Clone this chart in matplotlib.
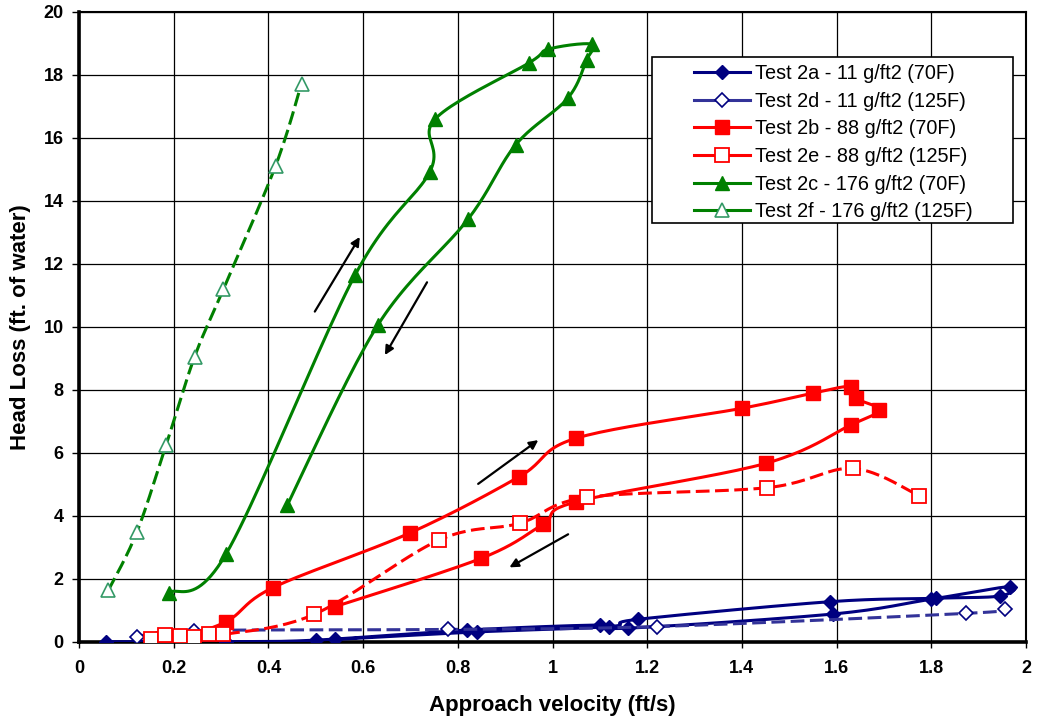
import numpy as np
import matplotlib
matplotlib.use("Agg")
import matplotlib.pyplot as plt
from matplotlib.lines import Line2D
from matplotlib.patches import Rectangle

plt.rcParams['font.family'] = ['Liberation Sans', 'DejaVu Sans']

# ---------------- data ----------------
t2a_x = [0.058, 0.31, 0.50, 0.82, 1.10, 1.16, 1.593, 1.80, 1.966, 1.945, 1.81, 1.586, 1.18, 1.12, 0.84, 0.54]
t2a_y = [0.00, 0.00, 0.05, 0.37, 0.53, 0.43, 0.88, 1.35, 1.75, 1.45, 1.38, 1.27, 0.71, 0.48, 0.31, 0.07]

t2d_x = [0.122, 0.243, 0.78, 1.22, 1.874, 1.956]
t2d_y = [0.16, 0.35, 0.39, 0.48, 0.90, 1.03]

t2b_x = [0.185, 0.31, 0.41, 0.70, 0.93, 1.05, 1.40, 1.55, 1.63, 1.64, 1.69, 1.63, 1.45, 1.05, 0.98, 0.85, 0.54]
t2b_y = [0.00, 0.63, 1.72, 3.46, 5.24, 6.46, 7.41, 7.89, 8.10, 7.73, 7.36, 6.88, 5.66, 4.44, 3.73, 2.65, 1.11]

t2e_x = [0.152, 0.182, 0.213, 0.243, 0.275, 0.305, 0.497, 0.761, 0.931, 1.072, 1.454, 1.634, 1.775]
t2e_y = [0.10, 0.21, 0.18, 0.16, 0.26, 0.23, 0.87, 3.23, 3.76, 4.58, 4.89, 5.50, 4.63]

t2c_x = [0.19, 0.31, 0.583, 0.741, 0.752, 0.951, 0.991, 1.083, 1.072, 1.032, 0.922, 0.822, 0.631, 0.44]
t2c_y = [1.56, 2.77, 11.64, 14.92, 16.59, 18.38, 18.81, 18.97, 18.47, 17.25, 15.77, 13.42, 10.05, 4.34]

t2f_x = [0.062, 0.122, 0.184, 0.244, 0.305, 0.415, 0.47]
t2f_y = [1.63, 3.47, 6.25, 9.04, 11.19, 15.10, 17.72]

labels = ["Test 2a - 11 g/ft2 (70F)", "Test 2d - 11 g/ft2 (125F)",
          "Test 2b - 88 g/ft2 (70F)", "Test 2e - 88 g/ft2 (125F)",
          "Test 2c - 176 g/ft2 (70F)", "Test 2f - 176 g/ft2 (125F)"]

# direction arrows: (tail_x, tail_y, head_x, head_y)
arrows = [(0.498, 10.48, 0.593, 12.85),
          (0.735, 11.41, 0.646, 9.10),
          (0.843, 5.01, 0.970, 6.40),
          (1.033, 3.41, 0.909, 2.36)]

xticks = [0, 0.2, 0.4, 0.6, 0.8, 1, 1.2, 1.4, 1.6, 1.8, 2]
xticklabels = ["0", "0.2", "0.4", "0.6", "0.8", "1", "1.2", "1.4", "1.6", "1.8", "2"]
yticks = list(range(0, 21, 2))

# ---------------- helpers ----------------
SX, SY = 947 / 2.0, 630 / 20.0


def smooth(xs, ys, n=24):
    P = np.column_stack([np.asarray(xs) * SX, np.asarray(ys) * SY])
    m = len(P)
    out = [P[0]]
    t = np.linspace(0, 1, n)[1:, None]
    for i in range(m - 1):
        p0 = P[max(i - 1, 0)]
        p1 = P[i]
        p2 = P[i + 1]
        p3 = P[min(i + 2, m - 1)]
        b1 = p1 + (p2 - p0) / 6.0
        b2 = p2 - (p3 - p1) / 6.0
        seg = ((1 - t) ** 3) * p1 + 3 * ((1 - t) ** 2) * t * b1 + 3 * (1 - t) * t ** 2 * b2 + t ** 3 * p2
        out.extend(seg)
    out = np.array(out)
    return out[:, 0] / SX, out[:, 1] / SY


# ---------------- figure ----------------
fig = plt.figure(figsize=(10.37, 7.23), dpi=100)
ax = fig.add_axes([79 / 1037, (723 - 641.7) / 723, 947 / 1037, 630 / 723])

navy = '#000080'
blue2 = '#333399'
red = '#FF0000'
green = '#008000'
teal = '#339966'
LW = 2.2

series = [
    dict(x=t2a_x, y=t2a_y, color=navy, ls='-', marker='D', ms=7.6, mfc=navy, mec=navy, mew=1.0),
    dict(x=t2d_x, y=t2d_y, color=blue2, ls='--', marker='D', ms=7.4, mfc='white', mec=navy, mew=1.2),
    dict(x=t2b_x, y=t2b_y, color=red, ls='-', marker='s', ms=10.0, mfc=red, mec=red, mew=1.0),
    dict(x=t2e_x, y=t2e_y, color=red, ls='--', marker='s', ms=9.8, mfc='white', mec=red, mew=1.3),
    dict(x=t2c_x, y=t2c_y, color=green, ls='-', marker='^', ms=10.5, mfc=green, mec=green, mew=1.0),
    dict(x=t2f_x, y=t2f_y, color=green, ls='--', marker='^', ms=10.0, mfc='white', mec=teal, mew=1.2),
]

handles = []
for k, s in enumerate(series):
    sx, sy = smooth(s['x'], s['y'])
    line_kw = dict(color=s['color'], lw=LW, zorder=3 + k * 0.1, solid_capstyle='butt')
    if s['ls'] == '--':
        ax.plot(sx, sy, linestyle=(0, (4.5, 1.8)), dash_capstyle='butt', **line_kw)
    else:
        ax.plot(sx, sy, linestyle='-', **line_kw)
    ax.plot(s['x'], s['y'], linestyle='none', marker=s['marker'], ms=s['ms'],
            mfc=s['mfc'], mec=s['mec'], mew=s['mew'], zorder=3.05 + k * 0.1)
    handles.append(Line2D([], [], color=s['color'], lw=LW, linestyle='-',
                          marker=s['marker'], ms=s['ms'], mfc=s['mfc'], mec=s['mec'], mew=s['mew']))

for (tx, ty, hx, hy) in arrows:
    ax.annotate('', xy=(hx, hy), xytext=(tx, ty),
                arrowprops=dict(arrowstyle='-|>', color='black', lw=1.6,
                                mutation_scale=13, shrinkA=0, shrinkB=0),
                zorder=6)

ax.set_xlim(0, 2)
ax.set_ylim(0, 20)
ax.set_xticks(xticks)
ax.set_xticklabels(xticklabels)
ax.set_yticks(yticks)
ax.grid(True, color='black', lw=0.9, zorder=1)
ax.set_axisbelow(True)

for lab in ax.get_xticklabels() + ax.get_yticklabels():
    lab.set_fontweight('bold')
    lab.set_fontsize(13)
ax.tick_params(axis='x', direction='out', length=4.5, width=1, pad=9)
ax.tick_params(axis='y', direction='out', length=5, width=1, pad=6)

ax.spines['left'].set_linewidth(2.6)
ax.spines['bottom'].set_linewidth(2.6)
ax.spines['top'].set_linewidth(1.5)
ax.spines['right'].set_linewidth(1.5)

ax.set_xlabel("Approach velocity (ft/s)", fontsize=16, fontweight='bold', va='center')
ax.xaxis.set_label_coords(0.5, -0.1005)
ax.set_ylabel("Head Loss (ft. of water)", fontsize=16, fontweight='bold', va='center', ha='center')
ax.yaxis.set_label_coords(-0.0623, 0.5)

# legend box
x0 = (651.7 - 79) / 947
x1 = (1012.7 - 79) / 947
yb = (641.7 - 222.7) / 630
yt = (641.7 - 57.3) / 630
ax.add_patch(Rectangle((x0, yb), x1 - x0, yt - yb, transform=ax.transAxes,
                       facecolor='white', edgecolor='black', lw=1.2, zorder=7))
leg = ax.legend(handles, labels, loc='upper left',
                bbox_to_anchor=((694 - 79) / 947, (641.7 - 64.0) / 630),
                frameon=False, fontsize=14.3, handlelength=2.8, handletextpad=0.25,
                labelspacing=0.435, borderpad=0, borderaxespad=0)
leg.set_zorder(8)

fig.savefig("out.png", dpi=100)
